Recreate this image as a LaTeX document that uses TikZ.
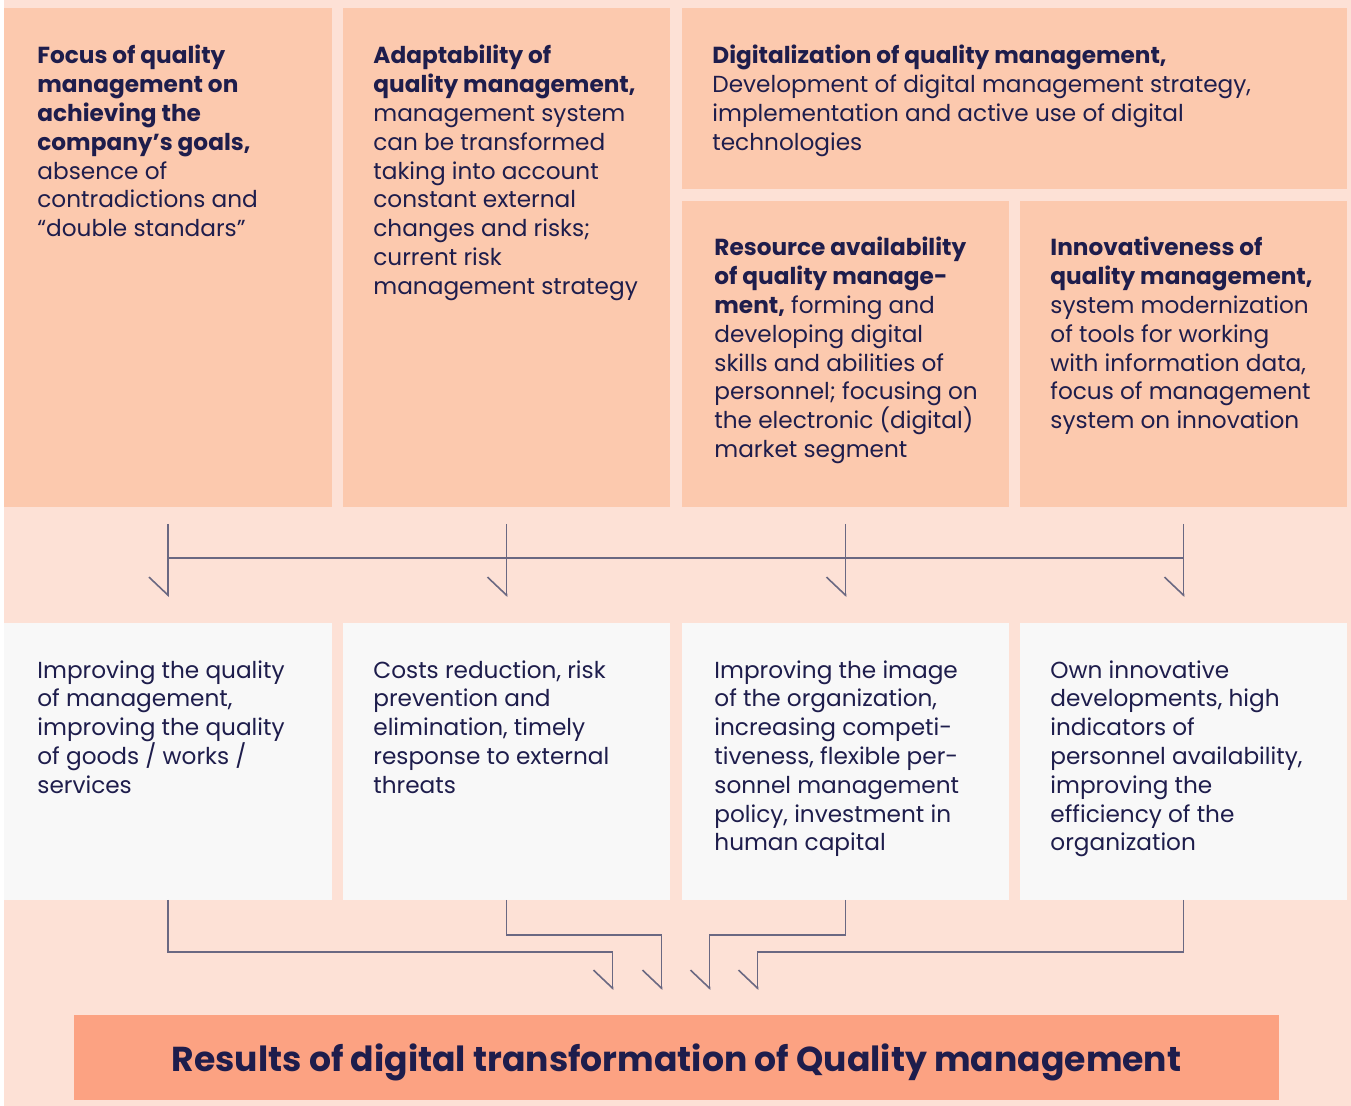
\documentclass[tikz,border=0pt]{standalone}
\usepackage{fontspec}
\setmainfont{Poppins}
\usetikzlibrary{arrows.meta,calc}

\definecolor{bgpink}{HTML}{FDE1D6}
\definecolor{peach}{HTML}{FCC9AE}
\definecolor{paper}{HTML}{F8F8F8}
\definecolor{salmon}{HTML}{FCA282}
\definecolor{navy}{HTML}{1E1D4C}
\definecolor{wire}{HTML}{6A6882}

\newcommand{\bodyfont}{\fontsize{11.6}{14.4}\selectfont}

\tikzset{
  box/.style={fill=peach, draw=none, inner sep=0pt, outer sep=0pt, anchor=north west},
  outbox/.style={box, fill=paper, minimum height=138.5pt},
  txt/.style={anchor=north west, inner sep=0pt, align=left, text=navy, font=\bodyfont},
  link/.style={draw=wire, line width=0.8pt, -{Straight Barb[right, length=9pt, width=19pt]}},
  bus/.style={draw=wire, line width=0.8pt}
}

\begin{document}
\begin{tikzpicture}[x=0.5pt, y=-0.5pt]
   \useasboundingbox (0,0) rectangle (1351,1106);
   \fill[white] (0,0) rectangle (1351,1106);
   \fill[bgpink] (4,0) rectangle (1351,1106);

   % upper row: factors
   \node[box, minimum width=164pt,   minimum height=249.5pt] (focus)  at (4,8)    {};
   \node[box, minimum width=163.5pt, minimum height=249.5pt] (adapt)  at (343,8)  {};
   \node[box, minimum width=332.5pt, minimum height=90.5pt]  (digit)  at (682,8)  {};
   \node[box, minimum width=163.5pt, minimum height=153pt]   (resour) at (682,201) {};
   \node[box, minimum width=163.5pt, minimum height=153pt]   (innov)  at (1020,201) {};

   % lower row: effects
   \node[outbox, minimum width=164pt]   (impr)   at (4,623)    {};
   \node[outbox, minimum width=163.5pt] (costs)  at (343,623)  {};
   \node[outbox, minimum width=163.5pt] (image)  at (682,623)  {};
   \node[outbox, minimum width=163.5pt] (owninn) at (1020,623) {};

   \node[box, fill=salmon, minimum width=602.5pt, minimum height=42.5pt] (results) at (74,1015) {};

   \node[txt] (focusT) at ($(focus.north west)+(33,37)$)
    {\textbf{Focus of quality}\\ \textbf{management on}\\ \textbf{achieving the}\\
     \textbf{company’s goals,}\\ absence of\\ contradictions and\\ “double standars”};
   \node[txt] (adaptT) at ($(adapt.north west)+(30,37)$)
    {\textbf{Adaptability of}\\ \textbf{quality management,}\\ management system\\
     can be transformed\\ taking into account\\ constant external\\
     changes and risks;\\ current risk\\ management strategy};
   \node[txt] (digitT) at ($(digit.north west)+(30,37)$)
    {\textbf{Digitalization of quality management,}\\
     Development of digital management strategy,\\
     implementation and active use of digital\\ technologies};
   \node[txt] (resourT) at ($(resour.north west)+(32,36)$)
    {\textbf{Resource availability}\\ \textbf{of quality manage-}\\
     \textbf{ment,} forming and\\ developing digital\\ skills and abilities of\\
     personnel; focusing on\\ the electronic (digital)\\ market segment};
   \node[txt] (innovT) at ($(innov.north west)+(30,36)$)
    {\textbf{Innovativeness of}\\ \textbf{quality management,}\\ system modernization\\
     of tools for working\\ with information data,\\ focus of management\\
     system on innovation};

   \node[txt] (imprT) at ($(impr.north west)+(33,37)$)
    {Improving the quality\\ of management,\\ improving the quality\\
     of goods / works /\\ services};
   \node[txt] (costsT) at ($(costs.north west)+(30,37)$)
    {Costs reduction, risk\\ prevention and\\ elimination, timely\\
     response to external\\ threats};
   \node[txt] (imageT) at ($(image.north west)+(32,37)$)
    {Improving the image\\ of the organization,\\ increasing competi-\\
     tiveness, flexible per-\\ sonnel management\\ policy, investment in\\
     human capital};
   \node[txt] (owninnT) at ($(owninn.north west)+(30,37)$)
    {Own innovative\\ developments, high\\ indicators of\\
     personnel availability,\\ improving the\\ efficiency of the\\ organization};

   \node[text=navy, font=\fontsize{17.3}{20}\selectfont\bfseries] (resultsT)
    at ($(results.center)+(0,5)$)
    {Results of digital transformation of Quality management};

   % factors feed every effect
   \draw[bus] ($(impr.north)+(0,-65)$) -- ($(owninn.north)+(0,-65)$);
   \foreach \eff in {impr,costs,image,owninn}
     \draw[link] ($(\eff.north)+(0,-99)$) -- ($(\eff.north)+(0,-26)$);

   % effects lead to the result
   \draw[link] (impr.south)   -- ++(0,52) -| ($(results.north)+(-64,-25)$);
   \draw[link] (costs.south)  -- ++(0,35) -| ($(results.north)+(-15,-25)$);
   \draw[link] (image.south)  -- ++(0,35) -| ($(results.north)+(33,-25)$);
   \draw[link] (owninn.south) -- ++(0,52) -| ($(results.north)+(81,-25)$);
\end{tikzpicture}
\end{document}
